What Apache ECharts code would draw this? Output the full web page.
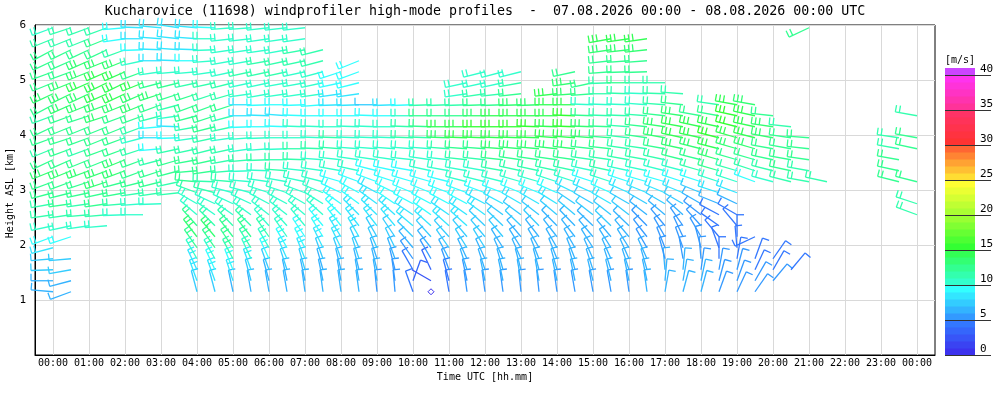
<!DOCTYPE html>
<html>
<head>
<meta charset="utf-8">
<script src="https://cdn.jsdelivr.net/npm/echarts@6/dist/echarts.min.js"></script>
<style>html,body{margin:0;background:#fff}#chart{width:1000px;height:400px}</style>
</head>
<body>
<div id="chart"></div>
<script>
// profiles every 30 min, range gates every 0.2 km
const _ = null;
const hours = [0,0.5,1,1.5,2,2.5,3,3.5,4,4.5,5,5.5,6,6.5,7,7.5,8,8.5,9,9.5,10,10.5,11,11.5,12,
  12.5,13,13.5,14,14.5,15,15.5,16,16.5,17,17.5,18,18.5,19,19.5,20,20.5,21,21.5,22,22.5,23,23.5,24];
const levels = [1.15,1.35,1.55,1.75,1.95,2.15,2.35,2.55,2.75,2.95,3.15,3.35,3.55,3.75,3.95,
  4.15,4.35,4.55,4.75,4.95,5.15,5.35,5.55,5.75,5.95];
const hourTicks = [0,1,2,3,4,5,6,7,8,9,10,11,12,13,14,15,16,17,18,19,20,21,22,23,24];
const speedTicks = [0,5,10,15,20,25,30,35,40];

// wind direction [deg], one row per profile, one column per level
const windDir = [
  [275,270,268,265,255,250,258,262,260,255,250,248,245,248,250,245,250,242,245,248,250,245,242,248,250],
  [250,255,260,265,_,252,258,262,262,256,250,248,246,250,252,248,250,246,244,248,250,246,244,248,252],
  [_,_,_,_,_,_,262,265,262,258,252,250,248,250,250,248,252,248,245,246,248,246,245,248,250],
  [_,_,_,_,_,_,265,265,262,258,252,250,248,250,248,248,252,250,246,244,246,248,245,248,250],
  [_,_,_,_,_,_,_,268,265,260,255,250,248,250,250,248,250,248,245,244,246,248,250,262,265],
  [_,_,_,_,_,_,_,270,266,262,256,250,250,252,255,250,250,248,246,248,250,258,268,270,272],
  [_,_,_,_,_,_,_,_,268,262,256,252,255,265,270,265,255,250,252,255,262,270,272,274,275],
  [_,_,_,_,_,_,_,_,_,264,258,255,254,258,268,272,262,255,252,256,265,272,274,276,278],
  [345,340,335,330,325,322,318,310,300,290,275,265,260,258,262,260,255,250,252,258,265,270,272,274,275],
  [345,340,335,330,325,320,315,305,295,285,272,262,258,256,258,256,252,250,252,258,262,266,268,270,272],
  [348,342,338,332,326,322,316,305,295,285,275,265,260,258,262,258,255,252,254,256,258,260,262,264,266],
  [350,345,340,335,328,322,315,305,295,285,275,268,265,262,266,268,270,270,262,258,258,260,262,264,266],
  [350,345,340,335,330,325,318,308,298,288,278,272,268,266,268,270,272,268,260,258,258,260,262,262,264],
  [350,348,342,336,330,325,318,308,298,288,280,274,270,268,270,272,274,270,262,260,258,258,260,262,264],
  [352,348,344,338,332,326,320,310,300,290,282,276,272,270,270,272,272,268,262,260,258,258,260,262,264],
  [352,348,344,340,334,328,320,312,302,292,284,278,274,272,272,272,270,266,262,258,255,255,256],
  [352,350,346,340,334,328,322,315,305,295,286,280,276,274,272,270,270,268,262,258,252],
  [352,350,346,342,336,330,322,315,306,298,290,282,278,274,272,272,270,268,262,256,250,248],
  [354,350,346,342,336,330,322,314,306,298,290,284,278,274,272,272,272,270],
  [355,352,346,340,334,326,320,312,304,296,288,282,278,274,272,270,270,268],
  [340,20,330,325,320,315,310,304,298,292,286,280,276,274,272,272,270,268],
  [0,300,335,330,322,318,312,305,298,292,286,282,278,274,272,272,270,268],
  [350,345,340,332,325,318,312,305,298,290,284,280,276,274,272,270,270,268],
  [352,348,342,335,328,320,312,305,298,290,284,280,276,274,272,270,270,268,262,258],
  [352,348,342,335,328,320,314,306,298,290,284,280,276,274,272,270,270,268,262,258,256],
  [352,348,344,336,328,320,314,306,298,290,284,280,276,274,272,270,270,268,264,258,255],
  [354,350,345,336,328,320,314,306,300,292,286,282,278,275,272,270,270,268,264,260,256],
  [354,350,345,338,330,322,316,308,300,292,286,282,278,275,272,272,270,268],
  [352,348,344,338,330,322,316,310,302,294,288,282,278,276,274,272,270,270,264],
  [350,348,344,338,330,322,316,310,304,296,288,282,278,276,274,272,272,270,266,262,258],
  [350,346,342,336,328,320,314,308,300,294,288,282,278,276,274,272,272,272,266,258],
  [350,346,342,336,328,320,314,308,300,294,288,282,278,276,274,272,272,272,270,268,266,264,262,260],
  [352,348,342,336,328,320,314,308,300,294,288,282,280,278,276,274,272,272,272,270,268,266,264,262],
  [352,348,344,336,330,322,316,308,300,292,286,282,280,278,278,276,274,274,272,270,268,266,264,262],
  [10,5,355,345,338,330,320,310,300,292,286,284,282,280,280,278,276,274,272,270],
  [15,10,5,350,340,335,325,312,300,292,288,285,284,282,282,280,278,276,274],
  [15,12,8,355,345,330,318,308,300,292,288,286,284,284,282,282,280],
  [20,15,10,0,340,320,305,298,292,288,288,286,286,284,284,282,280,278],
  [25,20,15,10,355,0,320,300,295,290,288,286,286,286,286,284,282,280],
  [35,30,25,20,_,245,_,_,_,_,290,288,286,286,284,282,282,280],
  [_,40,30,35,_,_,_,_,_,_,285,284,282,280,280,278,276],
  [_,_,40,_,_,_,_,_,_,_,284,282,280,280,278,276],
  [_,_,_,_,_,_,_,_,_,_,280,280,278,276,274,_,_,_,_,_,_,_,_,_,245],
  [_,_,_,_,_,_,_,_,_,_,282],
  [],
  [],
  [],
  [_,_,_,_,_,_,_,_,_,_,284,282,280,280,278],
  [_,_,_,_,_,_,_,290,288,_,284,_,_,282,280,_,280]
];

// wind speed [m/s], same layout
const windSpd = [
  [6,6,7,7,8,9,10,11,11,12,12,13,12,11,12,12,11,12,13,12,12,12,12,11,10],
  [6,6,7,7,_,9,10,11,12,12,12,13,12,12,12,12,12,13,13,13,12,12,12,11,11],
  [_,_,_,_,_,_,10,11,11,12,12,13,12,11,12,12,12,13,13,14,13,13,12,11,11],
  [_,_,_,_,_,_,10,11,12,12,13,13,12,12,12,12,13,13,14,14,14,13,12,12,11],
  [_,_,_,_,_,_,_,10,11,12,12,13,13,12,12,12,12,13,14,14,14,13,11,9,9],
  [_,_,_,_,_,_,_,10,10,11,12,12,12,11,10,11,12,13,13,14,12,10,9,8,8],
  [_,_,_,_,_,_,_,_,10,11,12,12,11,9,8,9,11,12,13,12,10,8,8,8,8],
  [_,_,_,_,_,_,_,_,_,11,11,12,12,11,9,8,10,11,12,12,10,8,8,8,8],
  [7,8,8,10,12,13,12,10,10,11,12,12,12,11,10,11,12,12,12,11,10,9,8,8,8],
  [7,8,9,10,12,13,11,10,10,11,11,12,12,11,11,12,12,12,11,11,10,10,10,10,9],
  [6,8,9,11,12,12,11,10,10,10,11,11,11,11,10,11,11,12,11,11,10,10,10,10,10],
  [6,7,8,10,11,12,11,10,10,10,10,10,11,10,10,9,8,8,10,10,11,10,10,10,10],
  [6,6,7,9,10,11,10,10,10,10,10,10,11,10,10,9,8,9,10,10,11,11,10,10,10],
  [6,6,7,8,9,10,10,10,10,10,10,11,11,10,10,9,8,9,10,10,11,11,10,10,10],
  [6,6,7,8,9,9,10,10,10,10,10,10,11,11,10,10,9,9,10,10,10,11,11,10,10],
  [6,6,6,7,8,9,9,10,10,10,10,10,10,11,10,10,9,9,10,10,10,11,11],
  [6,6,6,7,8,8,9,9,9,9,9,10,10,11,11,10,9,8,8,9,9],
  [6,6,6,7,7,8,8,8,9,9,9,10,10,10,10,10,9,8,8,9,9,9],
  [5,6,6,6,7,7,8,8,8,8,9,9,10,10,10,10,9,7],
  [5,5,5,6,7,7,8,8,9,9,9,9,10,10,10,10,9,8],
  [4,3,4,5,6,7,8,8,9,9,9,9,10,10,11,11,10,9],
  [0,2,3,5,6,7,8,9,9,9,9,10,10,10,11,12,12,11],
  [4,4,5,6,7,7,8,8,9,9,9,10,10,11,13,14,12,11],
  [5,5,6,6,7,7,8,8,9,9,10,10,11,12,14,14,12,11,10,10],
  [5,6,6,6,7,7,7,8,8,9,10,10,11,12,14,15,13,12,11,10,10],
  [5,6,6,6,6,7,7,7,8,9,10,11,12,13,14,15,14,12,11,10,10],
  [5,6,6,6,6,6,7,7,8,9,10,11,12,13,14,15,14,13,12,11,10],
  [5,6,6,6,6,6,7,7,8,9,10,11,12,13,14,15,14,13],
  [5,6,6,6,6,6,6,7,8,9,10,11,12,13,14,14,14,14,14],
  [5,6,6,6,6,6,6,7,7,8,10,11,12,13,14,15,15,14,13,13,12],
  [5,6,6,6,6,6,6,7,7,8,9,10,11,12,13,13,12,10,12,12],
  [5,6,6,6,6,6,7,7,8,9,10,11,11,12,12,12,11,10,11,11,12,12,13,14],
  [5,6,6,6,6,6,6,7,7,8,9,10,11,11,11,11,11,10,11,12,12,12,13,14],
  [6,6,6,6,5,5,5,6,7,8,9,10,11,11,12,12,11,10,10,11,12,12,13,14],
  [6,6,6,5,5,5,5,6,7,8,9,10,11,12,13,13,12,11,11,11],
  [6,6,6,5,5,5,5,6,7,8,9,10,12,13,14,14,13,12,11],
  [6,6,5,5,5,5,5,5,6,7,9,11,12,13,14,14,12],
  [5,5,5,4,4,4,4,4,6,8,10,12,13,14,15,14,12,11],
  [5,5,5,4,4,4,4,4,6,8,10,11,12,13,14,15,15,14],
  [5,5,4,4,_,4,_,_,_,_,9,11,12,13,14,14,14,13],
  [_,5,4,4,_,_,_,_,_,_,10,11,12,12,13,13,12],
  [_,_,4,_,_,_,_,_,_,_,11,12,12,12,12,11],
  [_,_,_,_,_,_,_,_,_,_,11,11,12,12,12,_,_,_,_,_,_,_,_,_,12],
  [_,_,_,_,_,_,_,_,_,_,11],
  [],
  [],
  [],
  [_,_,_,_,_,_,_,_,_,_,12,12,12,11,11],
  [_,_,_,_,_,_,_,11,11,_,12,_,_,12,12,_,11]
];

const MONO = 'DejaVu Sans Mono';
const SHAFT = 22, FEATHER = 7, GAP = 4, LW = 1.3;

// colour scale of the speed bar, one band per m/s
const stops = [[0,[60,50,238]],[4,[51,119,255]],[5,[51,153,255]],[9,[51,255,255]],[10,[51,255,204]],
  [14,[51,255,85]],[15,[51,255,51]],[19,[153,255,51]],[20,[170,255,51]],[24,[255,255,51]],
  [25,[255,221,51]],[29,[255,102,51]],[30,[255,51,51]],[34,[255,51,102]],[35,[255,51,153]],
  [39,[255,51,238]],[40,[204,68,255]]];
function speedColor(s) {
  const v = Math.max(0, Math.min(40, Math.floor(s)));
  for (let i = 0; i < stops.length - 1; i++) {
    const a = stops[i], b = stops[i + 1];
    if (v >= a[0] && v <= b[0]) {
      const f = (v - a[0]) / (b[0] - a[0]);
      const c = a[1].map((x, k) => Math.round(x + (b[1][k] - x) * f));
      return 'rgb(' + c.join(',') + ')';
    }
  }
  return 'rgb(204,68,255)';
}

const barbs = [];
hours.forEach((t, i) => {
  levels.forEach((h, j) => {
    const d = windDir[i][j], s = windSpd[i][j];
    if (d != null && s != null) barbs.push([t, h, d, s]);
  });
});

const bands = [];
for (let v = 0; v <= 40; v++) bands.push([v]);

function renderBarb(params, api) {
  const p = api.coord([api.value(0), api.value(1)]);
  const dir = api.value(2), spd = api.value(3);
  const col = speedColor(spd);
  if (spd < 0.5) {
    return {type: 'polygon', shape: {points: [[p[0], p[1] - 3], [p[0] + 3, p[1]], [p[0], p[1] + 3], [p[0] - 3, p[1]]]},
      style: {fill: 'none', stroke: col, lineWidth: 1}};
  }
  const r = dir * Math.PI / 180;
  const ux = Math.sin(r), uy = -Math.cos(r);
  const fx = Math.cos(r), fy = Math.sin(r);
  const tx = p[0] + ux * SHAFT, ty = p[1] + uy * SHAFT;
  const kids = [{type: 'line', shape: {x1: p[0], y1: p[1], x2: tx, y2: ty}, style: {stroke: col, lineWidth: LW}}];
  const n = Math.round(spd / 5);
  for (let k = 0; k < n; k++) {
    const bx = tx - ux * k * GAP, by = ty - uy * k * GAP;
    kids.push({type: 'line', shape: {x1: bx, y1: by, x2: bx + fx * FEATHER, y2: by + fy * FEATHER},
      style: {stroke: col, lineWidth: LW}});
  }
  return {type: 'group', children: kids};
}

function renderBand(params, api) {
  const v = api.value(0);
  const a = api.coord([0, v + 1]), b = api.coord([1, v]);
  return {type: 'rect', shape: {x: a[0], y: a[1], width: b[0] - a[0], height: b[1] - a[1] + 0.5},
    style: {fill: speedColor(v)}};
}

function renderBarTick(params, api) {
  const a = api.coord([0, api.value(0)]);
  const y = Math.round(a[1]) + 0.5;
  return {type: 'line', shape: {x1: a[0], y1: y, x2: a[0] + 46, y2: y}, style: {stroke: '#333', lineWidth: 1}};
}

const pad = n => (n < 10 ? '0' : '') + n;

const chart = echarts.init(document.getElementById('chart'), null, {renderer: 'canvas'});
chart.setOption({
  animation: false,
  backgroundColor: '#fff',
  graphic: [
    {type: 'text', x: 485, y: 12, style: {text: 'Kucharovice (11698) windprofiler high-mode profiles  -  07.08.2026 00:00 - 08.08.2026 00:00 UTC',
      font: '13.3px "' + MONO + '"', fill: '#000', textAlign: 'center', textVerticalAlign: 'middle'}},
    {type: 'text', x: 945, y: 60, style: {text: '[m/s]', font: '10px "' + MONO + '"', fill: '#000', textAlign: 'left', textVerticalAlign: 'middle'}},
    {type: 'text', x: 10, y: 193, rotation: Math.PI / 2, style: {text: 'Height ASL [km]', font: '10px "' + MONO + '"',
      fill: '#000', textAlign: 'center', textVerticalAlign: 'middle'}}
  ],
  grid: [
    {left: 35, right: 65, top: 25, bottom: 45, show: true, borderColor: '#000', borderWidth: 1,
      containLabel: false, outerBoundsMode: 'none'},
    {left: 945, width: 30, top: 68, bottom: 45, containLabel: false, outerBoundsMode: 'none'}
  ],
  xAxis: [
    {gridIndex: 0, type: 'value', min: -0.5, max: 24.5,
      name: 'Time UTC [hh.mm]', nameLocation: 'middle', nameGap: 16,
      nameTextStyle: {fontFamily: MONO, fontSize: 10, color: '#000'},
      axisLine: {show: true, onZero: false, lineStyle: {color: '#000'}},
      axisTick: {show: false, customValues: hourTicks},
      axisLabel: {customValues: hourTicks, fontFamily: MONO, fontSize: 10, color: '#000', margin: 3,
        formatter: v => pad(Math.round(v) % 24) + ':00'},
      splitLine: {show: true, lineStyle: {color: '#d9d9d9'}}},
    {gridIndex: 1, type: 'value', min: 0, max: 1, show: false}
  ],
  yAxis: [
    {gridIndex: 0, type: 'value', min: 0, max: 6, interval: 1,
      axisLine: {show: true, onZero: false, lineStyle: {color: '#000'}},
      axisTick: {show: false},
      axisLabel: {fontFamily: MONO, fontSize: 11, color: '#000', margin: 9,
        formatter: v => (v === 0 ? '' : String(v))},
      splitLine: {show: true, lineStyle: {color: '#d9d9d9'}}},
    {gridIndex: 1, type: 'value', min: 0, max: 41, interval: 5, position: 'right',
      axisLine: {show: false}, axisTick: {show: false}, splitLine: {show: false},
      axisLabel: {fontFamily: MONO, fontSize: 11, color: '#000', margin: 5, verticalAlign: 'bottom',
        formatter: v => (v % 5 === 0 ? String(v) : '')}}
  ],
  series: [
    {type: 'custom', xAxisIndex: 0, yAxisIndex: 0, data: barbs, renderItem: renderBarb, clip: false, silent: true},
    {type: 'custom', xAxisIndex: 1, yAxisIndex: 1, data: bands, renderItem: renderBand, silent: true},
    {type: 'custom', xAxisIndex: 1, yAxisIndex: 1, data: speedTicks.map(v => [v]), renderItem: renderBarTick, silent: true, z: 5}
  ]
});
</script>
</body>
</html>
